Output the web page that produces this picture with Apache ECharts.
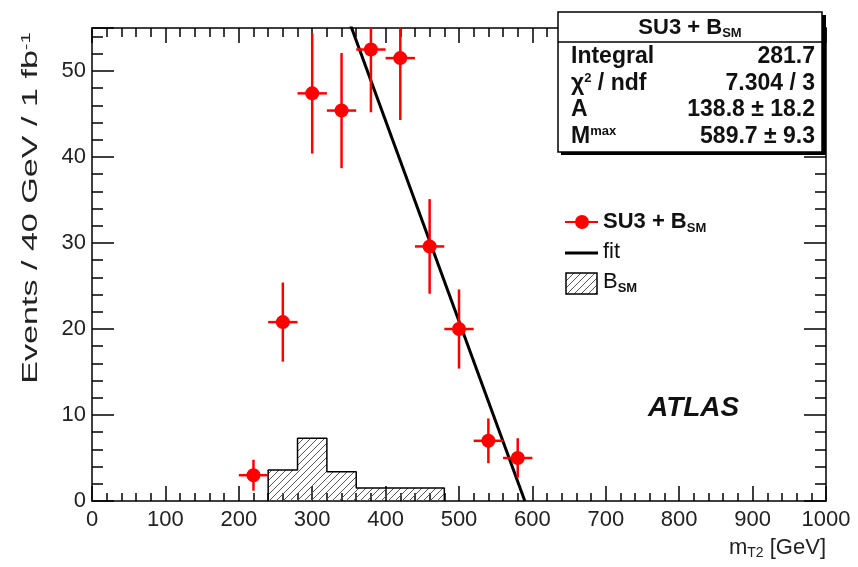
<!DOCTYPE html>
<html>
<head>
<meta charset="utf-8">
<script src="https://cdn.jsdelivr.net/npm/echarts@6/dist/echarts.min.js"></script>
<style>
  html, body { margin: 0; padding: 0; background: #fff; }
  #chart { width: 858px; height: 567px; }
</style>
</head>
<body>
<div id="chart"></div>
<script>
// data points: SU3 + B_SM
const binWidth = 40;
const pointX = [220, 260, 300, 340, 380, 420, 460, 500, 540, 580];
const pointY = [3, 20.8, 47.4, 45.4, 52.5, 51.5, 29.6, 20, 7, 5];
const pointErr = [1.8, 4.6, 7.0, 6.7, 7.3, 7.2, 5.5, 4.6, 2.6, 2.3];

// background histogram B_SM
const bkgEdges = [240, 280, 320, 360, 400, 440, 480];
const bkgCounts = [3.6, 7.3, 3.4, 1.5, 1.5, 1.5];

// fit line
const fitX = [340, 589.7];
const fitY = [58.2, 0];

const xTicks = [0, 100, 200, 300, 400, 500, 600, 700, 800, 900, 1000];
const yTicks = [0, 10, 20, 30, 40, 50];

const statsRows = [
  ['Integral', '281.7'],
  ['{t|χ}{sup|2}{t| / ndf}', '7.304 / 3'],
  ['A', '138.8 ± 18.2'],
  ['{t|M}{sup|max}', '589.7 ± 9.3']
];

const FONT = '"Liberation Sans", Arial, sans-serif';
const chart = echarts.init(document.getElementById('chart'));

function makeHatch() {
  const c = document.createElement('canvas');
  const s = 7;
  c.width = s;
  c.height = s;
  const g = c.getContext('2d');
  g.strokeStyle = '#555';
  g.lineWidth = 1;
  g.beginPath();
  g.moveTo(0, s); g.lineTo(s, 0);
  g.moveTo(-s, s); g.lineTo(s, -s);
  g.moveTo(0, 2 * s); g.lineTo(2 * s, 0);
  g.stroke();
  return c;
}
const hatch = { image: makeHatch(), repeat: 'repeat' };

const bkgStep = [[bkgEdges[0], 0]];
bkgCounts.forEach((v, i) => bkgStep.push([bkgEdges[i], v]));
bkgStep.push([bkgEdges[bkgEdges.length - 1], bkgCounts[bkgCounts.length - 1]]);
bkgStep.push([bkgEdges[bkgEdges.length - 1], 0]);

const points = pointX.map((x, i) => [x, pointY[i], pointErr[i]]);

function xAxisCfg(position, showLabel, majorLen, minorLen) {
  return {
    type: 'value',
    position: position,
    min: 0,
    max: 1000,
    interval: 100,
    axisLine: { show: true, onZero: false, lineStyle: { color: '#000', width: 1.5 } },
    axisTick: { show: true, inside: true, length: majorLen, lineStyle: { color: '#000', width: 1.5 } },
    minorTick: { show: true, splitNumber: 5, length: minorLen, lineStyle: { color: '#000', width: 1.5 } },
    axisLabel: {
      show: showLabel, color: '#222', fontFamily: FONT, fontSize: 22, margin: 8,
      formatter: (v) => (xTicks.includes(v) ? String(v) : '')
    },
    splitLine: { show: false }
  };
}

function yAxisCfg(position, interval, len, showLabel, showLine) {
  return {
    type: 'value',
    position: position,
    min: 0,
    max: 55,
    interval: interval,
    axisLine: { show: showLine, onZero: false, lineStyle: { color: '#000', width: 1.5 } },
    axisTick: { show: true, inside: true, length: len, lineStyle: { color: '#000', width: 1.5 } },
    axisLabel: {
      show: showLabel, color: '#222', fontFamily: FONT, fontSize: 22, margin: 6,
      formatter: (v) => (yTicks.includes(v) ? String(v) : '')
    },
    splitLine: { show: false }
  };
}

const legendTop = 222;

chart.setOption({
  animation: false,
  backgroundColor: '#fff',
  grid: { left: 92, right: 32, top: 28, bottom: 66 },
  xAxis: [
    xAxisCfg('bottom', true, 15, 8),
    xAxisCfg('top', false, 15, 9)
  ],
  yAxis: [
    yAxisCfg('left', 10, 22, true, true),
    yAxisCfg('left', 2, 11, false, false),
    yAxisCfg('right', 10, 22, false, true),
    yAxisCfg('right', 2, 11, false, false)
  ],
  series: [
    {
      name: 'B_SM',
      type: 'line',
      step: 'end',
      data: bkgStep,
      showSymbol: false,
      lineStyle: { color: '#000', width: 1.5 },
      areaStyle: { color: hatch, opacity: 1, origin: 'start' },
      z: 2
    },
    {
      name: 'fit',
      type: 'line',
      data: fitX.map((x, i) => [x, fitY[i]]),
      showSymbol: false,
      lineStyle: { color: '#000', width: 3 },
      clip: true,
      z: 3
    },
    {
      name: 'SU3 + B_SM',
      type: 'custom',
      data: points,
      clip: true,
      z: 4,
      renderItem: (params, api) => {
        const x = api.value(0);
        const y = api.value(1);
        const e = api.value(2);
        const c = api.coord([x, y]);
        const l = api.coord([x - binWidth / 2, y]);
        const r = api.coord([x + binWidth / 2, y]);
        const t = api.coord([x, y + e]);
        const b = api.coord([x, y - e]);
        const stroke = { stroke: '#ff0000', lineWidth: 2.5 };
        return {
          type: 'group',
          children: [
            { type: 'line', shape: { x1: l[0], y1: l[1], x2: r[0], y2: r[1] }, style: stroke },
            { type: 'line', shape: { x1: t[0], y1: t[1], x2: b[0], y2: b[1] }, style: stroke },
            { type: 'circle', shape: { cx: c[0], cy: c[1], r: 7 }, style: { fill: '#ff0000' } }
          ]
        };
      }
    }
  ],
  graphic: [
    // y-axis title, stretched along its length like the reference
    {
      type: 'text',
      x: 31,
      y: 208,
      rotation: Math.PI / 2,
      scaleX: 1.55,
      style: {
        text: '{a|Events / 40 GeV / 1 fb}{s|-1}',
        align: 'center',
        verticalAlign: 'middle',
        rich: {
          a: { fontFamily: FONT, fontSize: 22, fill: '#222' },
          s: { fontFamily: FONT, fontSize: 13, fill: '#222', verticalAlign: 'top', padding: [0, 0, 10, 0] }
        }
      }
    },
    // x-axis title
    {
      type: 'text',
      x: 826,
      y: 548,
      style: {
        text: '{a|m}{s|T2}{a| [GeV]}',
        align: 'right',
        verticalAlign: 'middle',
        rich: {
          a: { fontFamily: FONT, fontSize: 22, fill: '#222' },
          s: { fontFamily: FONT, fontSize: 14, fill: '#222', verticalAlign: 'bottom', padding: [10, 0, 0, 0] }
        }
      }
    },
    // stats box
    { type: 'rect', shape: { x: 561, y: 15, width: 265, height: 140 }, style: { fill: '#000' }, z: 10 },
    { type: 'rect', shape: { x: 558, y: 12, width: 264, height: 140 }, style: { fill: '#fff', stroke: '#000', lineWidth: 1.5 }, z: 11 },
    { type: 'line', shape: { x1: 558, y1: 42, x2: 822, y2: 42 }, style: { stroke: '#000', lineWidth: 1.5 }, z: 12 },
    {
      type: 'text', x: 690, y: 28, z: 12,
      style: {
        text: '{t|SU3 + B}{s|SM}',
        align: 'center', verticalAlign: 'middle',
        rich: {
          t: { fontFamily: FONT, fontSize: 22, fontWeight: 'bold', fill: '#111' },
          s: { fontFamily: FONT, fontSize: 13, fontWeight: 'bold', fill: '#111', verticalAlign: 'bottom', padding: [10, 0, 0, 0] }
        }
      }
    },
    ...statsRows.flatMap((row, i) => [
      {
        type: 'text', x: 571, y: 57 + i * 26.5, z: 12,
        style: {
          text: row[0].startsWith('{') ? row[0] : '{t|' + row[0] + '}',
          align: 'left', verticalAlign: 'middle',
          rich: {
            t: { fontFamily: FONT, fontSize: 23, fontWeight: 'bold', fill: '#111' },
            sup: { fontFamily: FONT, fontSize: 13, fontWeight: 'bold', fill: '#111', verticalAlign: 'top', padding: [0, 0, 10, 0] }
          }
        }
      },
      {
        type: 'text', x: 815, y: 57 + i * 26.5, z: 12,
        style: {
          text: row[1], align: 'right', verticalAlign: 'middle',
          fontFamily: FONT, fontSize: 23, fontWeight: 'bold', fill: '#111'
        }
      }
    ]),
    // legend
    { type: 'line', shape: { x1: 565, y1: legendTop, x2: 598, y2: legendTop }, style: { stroke: '#ff0000', lineWidth: 2 } },
    { type: 'circle', shape: { cx: 582, cy: legendTop, r: 7 }, style: { fill: '#ff0000' } },
    {
      type: 'text', x: 603, y: legendTop,
      style: {
        text: '{t|SU3 + B}{s|SM}', align: 'left', verticalAlign: 'middle',
        rich: {
          t: { fontFamily: FONT, fontSize: 22, fontWeight: 'bold', fill: '#111' },
          s: { fontFamily: FONT, fontSize: 13, fontWeight: 'bold', fill: '#111', verticalAlign: 'bottom', padding: [12, 0, 0, 0] }
        }
      }
    },
    { type: 'line', shape: { x1: 565, y1: 253, x2: 598, y2: 253 }, style: { stroke: '#000', lineWidth: 3 } },
    {
      type: 'text', x: 603, y: 252,
      style: { text: 'fit', align: 'left', verticalAlign: 'middle', fontFamily: FONT, fontSize: 22, fill: '#111' }
    },
    { type: 'rect', shape: { x: 566, y: 273, width: 31, height: 21 }, style: { fill: hatch, stroke: '#000', lineWidth: 1.5 } },
    {
      type: 'text', x: 603, y: 282,
      style: {
        text: '{t|B}{s|SM}', align: 'left', verticalAlign: 'middle',
        rich: {
          t: { fontFamily: FONT, fontSize: 22, fill: '#111' },
          s: { fontFamily: FONT, fontSize: 13, fontWeight: 'bold', fill: '#111', verticalAlign: 'bottom', padding: [12, 0, 0, 0] }
        }
      }
    },
    // ATLAS label
    {
      type: 'text', x: 648, y: 408,
      style: {
        text: 'ATLAS', align: 'left', verticalAlign: 'middle',
        fontFamily: FONT, fontSize: 28, fontWeight: 'bold', fontStyle: 'italic', fill: '#111'
      }
    }
  ]
});

window.addEventListener('resize', () => {
  chart.resize();
});
</script>
</body>
</html>
